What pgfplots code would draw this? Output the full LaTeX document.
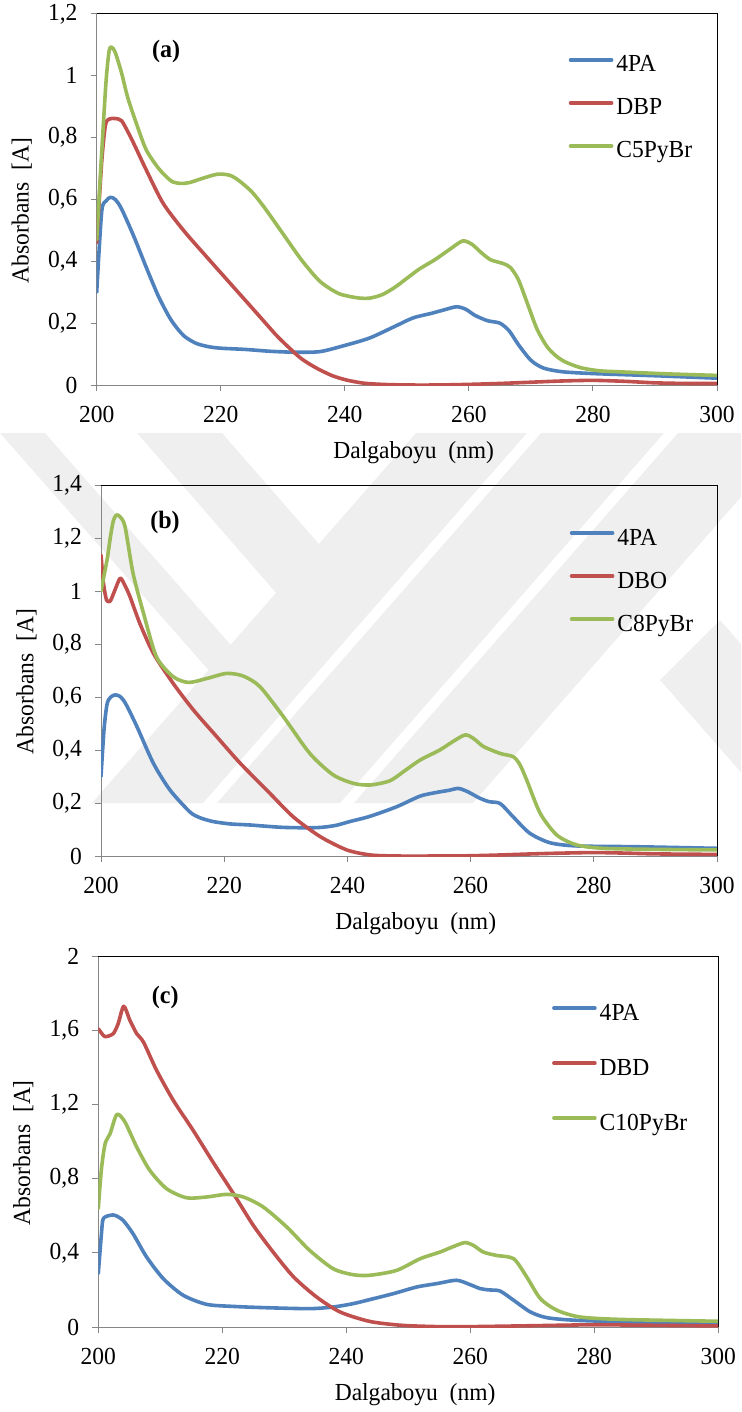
\documentclass[border=0pt]{standalone}
\usepackage{fontspec}
\setmainfont{Liberation Serif}[FakeStretch=0.96]
\usepackage{pgfplots}
\pgfplotsset{compat=1.18}

\definecolor{cblue}{RGB}{79,129,189}
\definecolor{cred}{RGB}{192,80,77}
\definecolor{cgreen}{RGB}{155,187,89}
\definecolor{axgray}{RGB}{134,134,134}
\definecolor{wm}{RGB}{239,239,239}

\pgfplotsset{
  spec/.style={
    scale only axis, height=371pt,
    xmin=200, xmax=300, ymin=0,
    xtick={200,220,...,300},
    axis x line*=bottom, axis y line*=left,
    axis line style={axgray, line width=1pt},
    tick style={axgray, line width=1pt},
    tick align=outside, major tick length=6pt,
    font=\fontsize{24.5}{29}\selectfont,
    /pgf/number format/assume math mode=true,
    /pgf/number format/use comma,
    yticklabel style={inner sep=0pt, xshift=-13pt},
    xticklabel style={inner sep=0pt, yshift=-15pt},
    xlabel={Dalgaboyu\ \ (nm)},
    ylabel={Absorbans\ \ [A]},
    xlabel style={at={(axis description cs:0.511,-0.1968)}, anchor=base},
    ylabel style={at={(axis description cs:-0.121,0.47)}, anchor=center},
    every axis plot/.append style={line width=3.6pt, smooth, tension=0.45,
      line join=round, line cap=round},
    legend cell align=left,
    legend image code/.code={\draw[#1, line width=3.6pt, line cap=round] (0pt,6pt) -- (41pt,6pt);},
    legend style={draw=none, fill=none, inner sep=0pt, outer sep=0pt,
      anchor=north west, column sep=3pt,
      nodes={inner sep=0pt, text height=17pt, text depth=5pt}},
    after end axis/.code={\draw[black, line width=1pt] (rel axis cs:0,1) -- (rel axis cs:1,1) -- (rel axis cs:1,0);},
  }
}

\begin{document}
\begin{tikzpicture}
\useasboundingbox (0,0) rectangle (741pt,-1412pt);

% faint background watermark
\begin{scope}[x=1pt, y=-1pt]
  \clip (0,433) rectangle (741,803);
  \fill[wm] (0,433) -- (45,433) -- (286,708) -- (263,732) -- cycle;
  \fill[wm] (137,433) -- (222,433) -- (374,607) -- (331,656) -- cycle;
  \fill[wm] (92,803) -- (203,803) -- (527,433) -- (416,433) -- cycle;
  \fill[wm] (217,803) -- (340,803) -- (664,433) -- (541,433) -- cycle;
  \fill[wm] (354,803) -- (473,803) -- (797,433) -- (678,433) -- cycle;
  \fill[wm] (660,680) -- (768,803) -- (880,803) -- (720,620) -- cycle;
\end{scope}

% ---------- (a) ----------
\begin{axis}[spec, at={(96.7pt,-385pt)}, anchor=south west, width=620.3pt,
  ymax=1.2, ytick={0,0.2,...,1.2},
  legend style={at={(axis description cs:0.761,0.8895)}, row sep=21pt}]
\addplot[cblue] coordinates {
(200,0.30) (200.8,0.56) (201.5,0.595) (202.2,0.607) (203,0.60) (204,0.57)
(206,0.48) (208,0.38) (210,0.285) (212,0.21) (214,0.16) (216,0.135)
(218,0.124) (220,0.119) (224,0.115) (228,0.109) (232,0.106) (236,0.108)
(240,0.128) (244,0.152) (248,0.189) (251,0.217) (254,0.232) (256,0.243)
(258,0.253) (259.5,0.245) (261,0.225) (263,0.208) (265,0.2) (266.5,0.175)
(268,0.13) (270,0.08) (272,0.055) (275,0.043) (280,0.037) (290,0.03) (300,0.022)};
\addlegendentry{4PA}
\addplot[cred] coordinates {
(200,0.46) (200.8,0.72) (201.4,0.84) (202,0.86) (203,0.862) (204,0.855)
(205,0.82) (206,0.78) (208,0.695) (210.7,0.588) (214,0.50) (217.7,0.415)
(222,0.318) (226.3,0.221) (229,0.16) (231.1,0.119) (233,0.085) (235.4,0.055)
(238,0.03) (240.3,0.016) (243,0.006) (246,0.002) (250,0) (255,0) (260,0.002)
(265,0.005) (270,0.009) (275,0.013) (280,0.015) (285,0.012) (290,0.007)
(295,0.005) (300,0.005)};
\addlegendentry{DBP}
\addplot[cgreen] coordinates {
(200,0.47) (200.8,0.75) (201.5,0.98) (202,1.08) (202.4,1.093) (203,1.075)
(204,1.01) (205,0.93) (206.5,0.84) (208,0.76) (210,0.70) (212,0.66)
(213.5,0.652) (215,0.655) (217,0.668) (219.5,0.682) (221.5,0.678) (223,0.66)
(225,0.625) (227,0.575) (230,0.49) (233,0.405) (236,0.335) (239,0.296)
(242,0.282) (244,0.281) (246,0.292) (248,0.315) (250,0.345) (252,0.375)
(254.5,0.405) (257,0.44) (259,0.466) (260.5,0.455) (262,0.428) (263.5,0.405)
(265.5,0.393) (266.7,0.38) (268,0.34) (269.5,0.26) (271,0.18) (272.6,0.124)
(274,0.095) (275.5,0.075) (278,0.056) (281,0.046) (285,0.042) (292,0.036) (300,0.031)};
\addlegendentry{C5PyBr}
\node[font=\fontsize{25}{29}\selectfont\bfseries] at (axis description cs:0.112,0.898) {(a)};
\end{axis}

% ---------- (b) ----------
\begin{axis}[spec, at={(101pt,-856pt)}, anchor=south west, width=616pt,
  ymax=1.4, ytick={0,0.2,...,1.4},
  legend style={at={(axis description cs:0.761,0.884)}, row sep=21pt}]
\addplot[cblue] coordinates {
(200,0.30) (200.5,0.48) (201,0.575) (201.6,0.6) (202.3,0.608) (203.1,0.602)
(204,0.575) (205.8,0.49) (208.5,0.35) (211.2,0.249) (214.4,0.167) (216,0.145)
(218.2,0.13) (221,0.121) (224.2,0.117) (229.6,0.108) (235,0.107) (238,0.115)
(240.4,0.13) (243.7,0.15) (248,0.186) (251.8,0.226) (254.5,0.24) (256.5,0.248)
(258,0.255) (259.5,0.243) (261.5,0.218) (263,0.205) (264.8,0.198) (266.9,0.148)
(269.6,0.086) (272.9,0.05) (277.2,0.038) (287,0.035) (300,0.029)};
\addlegendentry{4PA}
\addplot[cred] coordinates {
(200,1.136) (200.4,1.03) (200.9,0.966) (201.5,0.962) (202.2,1.0) (203.1,1.048)
(203.8,1.025) (204.7,0.979) (206.3,0.878) (208.5,0.765) (211.7,0.652)
(215,0.551) (218.8,0.45) (222.6,0.35) (226.9,0.249) (231.2,0.148) (235.6,0.073)
(239.9,0.023) (243.7,0.004) (248,0) (255,0) (260,0.001) (265,0.004) (270,0.008)
(275,0.011) (280,0.013) (285,0.011) (290,0.008) (300,0.006)};
\addlegendentry{DBO}
\addplot[cgreen] coordinates {
(200,1.0) (201,1.12) (201.5,1.2) (202,1.265) (202.5,1.287) (203.1,1.28)
(203.9,1.243) (205.2,1.067) (206.9,0.916) (209,0.752) (211.7,0.677)
(214.2,0.655) (217.2,0.67) (220.4,0.689) (223.1,0.679) (225.8,0.639)
(229.6,0.526) (233.9,0.387) (237.7,0.306) (241,0.274) (243.7,0.268)
(246.9,0.284) (249.5,0.325) (251.8,0.362) (255,0.40) (257,0.43) (259.1,0.457)
(260.5,0.443) (262.1,0.413) (264.8,0.387) (266.9,0.375) (268,0.345)
(269.1,0.287) (271.3,0.161) (274,0.079) (277.2,0.042) (281.5,0.029)
(290,0.025) (300,0.023)};
\addlegendentry{C8PyBr}
\node[font=\fontsize{25}{29}\selectfont\bfseries] at (axis description cs:0.104,0.898) {(b)};
\end{axis}

% ---------- (c) ----------
\begin{axis}[spec, at={(98.3pt,-1327pt)}, anchor=south west, width=620pt,
  ymax=2, ytick={0,0.4,...,2},
  legend style={at={(axis description cs:0.732,0.873)}, row sep=33pt}]
\addplot[cblue] coordinates {
(200,0.288) (200.5,0.5) (200.8,0.584) (201.9,0.602) (202.7,0.602) (204,0.575)
(205.6,0.503) (207.8,0.377) (210.5,0.26) (213.7,0.171) (217.5,0.122)
(221.8,0.111) (227.2,0.104) (234.1,0.099) (237.9,0.108) (241.1,0.126)
(243.8,0.148) (247.6,0.18) (251.4,0.216) (254.6,0.234) (257.8,0.252)
(260,0.228) (261.6,0.207) (263,0.2) (264.8,0.194) (267,0.144) (269.7,0.081)
(272.4,0.05) (277.2,0.036) (288,0.025) (300,0.018)};
\addlegendentry{4PA}
\addplot[cred] coordinates {
(200,1.608) (200.5,1.585) (201.1,1.565) (202.4,1.581) (203.2,1.635)
(204.1,1.729) (205.1,1.653) (206.2,1.581) (207.3,1.535) (209.4,1.384)
(212.1,1.222) (215.3,1.06) (218.5,0.889) (221.8,0.719) (225,0.548)
(228.2,0.404) (231.5,0.27) (235.2,0.162) (239,0.081) (243.8,0.03) (249,0.009)
(255,0.002) (260,0.002) (270,0.007) (280,0.012) (290,0.009) (300,0.006)};
\addlegendentry{DBD}
\addplot[cgreen] coordinates {
(200,0.638) (200.5,0.85) (201.1,0.988) (201.9,1.042) (203,1.146) (204.3,1.105)
(206.2,0.97) (208.3,0.845) (211,0.746) (214.2,0.697) (217.5,0.701)
(220.7,0.715) (223.4,0.701) (226.6,0.647) (230.4,0.539) (234.1,0.413)
(237.9,0.314) (241.1,0.282) (243.8,0.279) (248.1,0.305) (251.9,0.368)
(255.1,0.404) (257,0.43) (259.1,0.455) (260.5,0.44) (262.1,0.404)
(264.2,0.386) (267,0.368) (269.1,0.27) (271.3,0.153) (274,0.09)
(277.7,0.054) (284.2,0.041) (300,0.031)};
\addlegendentry{C10PyBr}
\node[font=\fontsize{25}{29}\selectfont\bfseries] at (axis description cs:0.108,0.889) {(c)};
\end{axis}
\end{tikzpicture}
\end{document}
